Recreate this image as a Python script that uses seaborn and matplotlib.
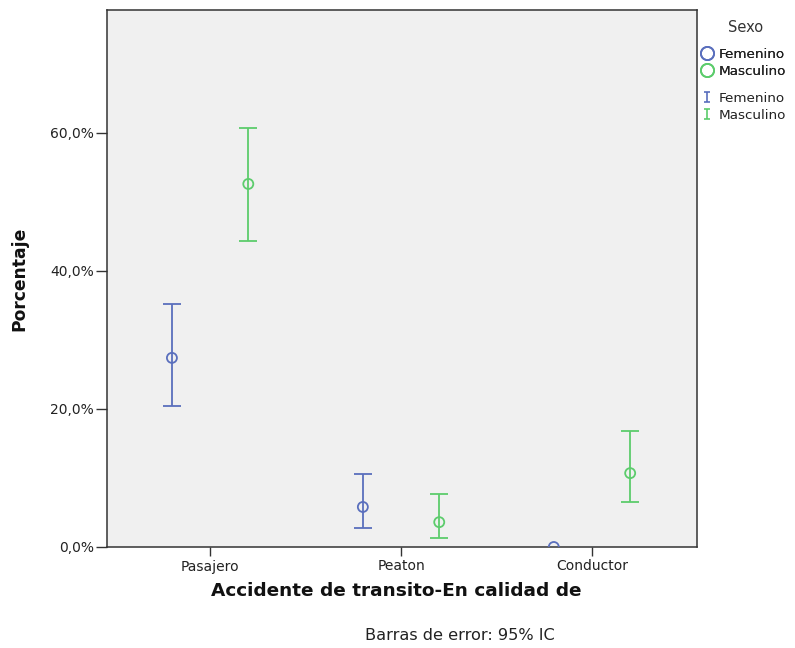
import numpy as np
import pandas as pd
import matplotlib
matplotlib.use("Agg")
import matplotlib.pyplot as plt
from matplotlib.lines import Line2D
from matplotlib.path import Path
from matplotlib.ticker import FuncFormatter
import seaborn as sns

categories = ["Pasajero", "Peaton", "Conductor"]
sexes = ["Femenino", "Masculino"]
pct_fem = [27.4, 5.8, 0.0]
lo_fem = [20.4, 2.75, np.nan]
hi_fem = [35.2, 10.6, np.nan]
pct_masc = [52.6, 3.6, 10.7]
lo_masc = [44.3, 1.3, 6.5]
hi_masc = [60.7, 7.7, 16.8]
yticks = [0, 20, 40, 60]

colors = {"Femenino": "#5a6fbd", "Masculino": "#5ccc6c"}

rows = []
for i, c in enumerate(categories):
    rows.append(dict(cat=c, idx=i, sexo="Femenino", pct=pct_fem[i], lo=lo_fem[i], hi=hi_fem[i]))
    rows.append(dict(cat=c, idx=i, sexo="Masculino", pct=pct_masc[i], lo=lo_masc[i], hi=hi_masc[i]))
df = pd.DataFrame(rows)
offs = {"Femenino": -0.2, "Masculino": 0.2}
df["x"] = df["idx"] + df["sexo"].map(offs)

sns.set_style("white")
plt.rcParams["font.family"] = ["DejaVu Sans"]

fig = plt.figure(figsize=(7.95, 6.48), dpi=100)
ax = fig.add_axes([107/795, 101/648, 590/795, 537/648])
ax.set_facecolor("#f0f0f0")

for s in sexes:
    d = df[(df.sexo == s) & df.lo.notna()]
    ax.errorbar(d["x"], d["pct"], yerr=[d["pct"] - d["lo"], d["hi"] - d["pct"]],
                fmt="none", ecolor=colors[s], elinewidth=1.3, capsize=6.5, capthick=1.3, zorder=2)

sns.scatterplot(data=df, x="x", y="pct", hue="sexo", palette=colors, ax=ax,
                marker="o", s=52, linewidth=1.3, legend=False, zorder=3)
sc = ax.collections[-1]
sc.set_facecolor("none")
sc.set_edgecolors([colors[s] for s in df["sexo"]])

ax.set_xlim(-0.54, 2.55)
ax.set_ylim(0, 77.8)
ax.set_xticks(range(len(categories)))
ax.set_xticklabels(categories, fontsize=10, color="#222222")
ax.set_yticks(yticks)
ax.yaxis.set_major_formatter(FuncFormatter(lambda v, p: f"{v:.1f}%".replace(".", ",")))
ax.tick_params(axis="y", labelsize=10, length=8, width=1, direction="out", left=True, pad=1.5,
               labelcolor="#222222", color="#333333")
ax.tick_params(axis="x", length=6.5, width=1, direction="out", bottom=True, pad=2.5, color="#333333")
for sp in ax.spines.values():
    sp.set_visible(True)
    sp.set_color("#333333")
    sp.set_linewidth(1.1)

ax.set_xlabel("Accidente de transito-En calidad de", fontsize=13.3, fontweight="bold", color="#111111")
ax.xaxis.set_label_coords(0.49, -0.065)
ax.set_ylabel("Porcentaje", fontsize=12.3, fontweight="bold", color="#111111")
ax.yaxis.set_label_coords(-0.133, 0.5)

fig.text(460/795, 1 - 636/648, "Barras de error: 95% IC", fontsize=11.6, ha="center", va="center", color="#222222")
fig.text(746/795, 1 - 28/648, "Sexo", fontsize=10.5, ha="center", va="center", color="#333333")

ibar = Path([(0, -1), (0, 1), (-0.6, 1), (0.6, 1), (-0.6, -1), (0.6, -1)],
            [Path.MOVETO, Path.LINETO, Path.MOVETO, Path.LINETO, Path.MOVETO, Path.LINETO])
h1 = [Line2D([], [], marker="o", ls="none", markerfacecolor="none", markeredgecolor=colors[s],
             markersize=9.5, markeredgewidth=1.3, label=s) for s in sexes]
h2 = [Line2D([], [], marker=ibar, ls="none", markerfacecolor="none", markeredgecolor=colors[s],
             markersize=6.5, markeredgewidth=1.2, label=s) for s in sexes]
common = dict(loc="upper left", frameon=False, fontsize=9.7, handletextpad=0.25, handlelength=1.3,
              labelspacing=0.33, borderaxespad=0, borderpad=0)
leg1 = fig.legend(handles=h1, bbox_to_anchor=(698/795, 1 - 47.5/648), **common)
leg2 = fig.legend(handles=h2, bbox_to_anchor=(698/795, 1 - 91.5/648), **common)
for leg in (leg1, leg2):
    for t in leg.get_texts():
        t.set_color("#222222")
fig.add_artist(leg1)

fig.savefig("out.png", dpi=100, facecolor="white")
